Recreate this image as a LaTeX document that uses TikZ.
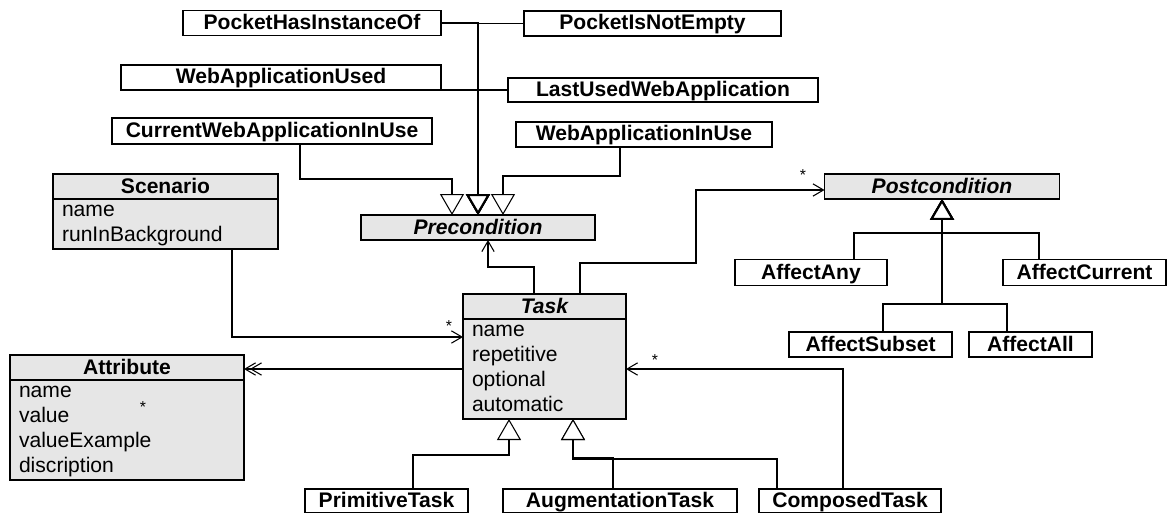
\documentclass[tikz,border=0pt]{standalone}
\usepackage{fontspec}
\setmainfont{Liberation Sans}
\usetikzlibrary{arrows.meta,positioning}
\definecolor{classfill}{RGB}{230,230,230}
\tikzset{
  every node/.style={font=\fontsize{12}{14.23}\selectfont},
  box/.style={draw, line width=0.8pt, inner sep=0pt, outer sep=0pt,
    minimum height=0.5cm, text height=8.6pt, text depth=1.2pt,
    font=\fontsize{12}{14.23}\selectfont\bfseries},
  abstract/.style={box, fill=classfill,
    font=\fontsize{12}{14.23}\selectfont\bfseries\itshape},
  head/.style={box, fill=classfill},
  attrs/.style={draw, line width=0.8pt, fill=classfill, outer sep=0pt,
    inner xsep=0.18cm, inner ysep=0pt, align=left},
  gen/.style={line width=0.6pt,
    -{Triangle[length=0.42cm,width=0.48cm,fill=white]}},
  assoc/.style={line width=0.6pt, -{Straight Barb[length=6pt,width=7pt]}},
  assoctwo/.style={line width=0.6pt,
    -{Straight Barb[length=6pt,width=7pt,sep=-3.5pt]Straight Barb[length=6pt,width=7pt]}},
  mult/.style={font=\fontsize{9}{10}\selectfont, inner sep=0pt}
}

\begin{document}
\begin{tikzpicture}[x=0.02cm, y=-0.02cm]
    \useasboundingbox (0,0) rectangle (1168,513);

    % preconditions
    \node[box, minimum width=5.16cm] (phio) at (312,23) {PocketHasInstanceOf};
    \node[box, minimum width=5.14cm] (pine) at (652.5,23.5) {PocketIsNotEmpty};
    \node[box, minimum width=6.4cm] (wau) at (281,77.5) {WebApplicationUsed};
    \node[box, minimum width=6.2cm, minimum height=0.48cm] (luwa) at (663,90) {LastUsedWebApplication};
    \node[box, minimum width=6.4cm, minimum height=0.52cm] (cwaiu) at (272,131) {CurrentWebApplicationInUse};
    \node[box, minimum width=5.12cm] (waiu) at (644,134.5) {WebApplicationInUse};
    \node[abstract, minimum width=4.68cm] (pre) at (478,227.5) {Precondition};

    % postconditions
    \node[abstract, minimum width=4.7cm] (post) at (942,186.5) {Postcondition};
    \node[box, minimum width=3.04cm, minimum height=0.53cm] (aany) at (811,272.5) {AffectAny};
    \node[box, minimum width=3.26cm, minimum height=0.52cm] (acur) at (1084.5,272.5) {AffectCurrent};
    \node[box, minimum width=3.26cm] (asub) at (870.5,344.5) {AffectSubset};
    \node[box, minimum width=2.46cm] (aall) at (1030.5,344.5) {AffectAll};

    % classes with attributes
    \node[head, minimum width=4.5cm] (scen) at (165.5,186.5) {Scenario};
    \node[attrs, text width=4.14cm, below=0pt of scen] (scenbody)
      {\strut name\\\strut runInBackground};
    \node[abstract, minimum width=3.26cm] (task) at (544.5,306.5) {Task};
    \node[attrs, text width=2.9cm, below=0pt of task] (taskbody)
      {\strut name\\\strut repetitive\\\strut optional\\\strut automatic};
    \node[head, minimum width=4.68cm] (attr) at (127,367.5) {Attribute};
    \node[attrs, text width=4.32cm, below=0pt of attr] (attrbody)
      {\strut name\\\strut value\\\strut valueExample\\\strut discription};

    % subtasks
    \node[box, minimum width=3.26cm, minimum height=0.48cm] (prim) at (386.5,501) {PrimitiveTask};
    \node[box, minimum width=4.68cm, minimum height=0.48cm] (aug) at (620,501) {AugmentationTask};
    \node[box, minimum width=3.64cm, minimum height=0.48cm] (comp) at (850,501) {ComposedTask};

    % generalizations
    \draw[gen] (phio.east) -| (pre.north);
    \draw[gen] (pine.west) -| (pre.north);
    \draw[gen, line width=1.2pt] (wau.east |- luwa.west) -| (pre.north);
    \draw[gen, line width=1.2pt] (luwa.west) -| (pre.north);
    \draw[gen] (300,0 |- cwaiu.south) |- (452,179) -- (452,0 |- pre.north);
    \draw[gen] (620,0 |- waiu.south) |- (503,176) -- (503,0 |- pre.north);

    \draw[gen] (854,0 |- aany.north) |- (942,233) -- (post.south);
    \draw[gen] (1039,0 |- acur.north) |- (942,233) -- (post.south);
    \draw[gen, line width=1.2pt] (883,0 |- asub.north) |- (942,304) -- (post.south);
    \draw[gen, line width=1.2pt] (1007,0 |- aall.north) |- (942,304) -- (post.south);

    \draw[gen] (413,0 |- prim.north) |- (509,455) -- (509,0 |- taskbody.south);
    \draw[gen] (613,0 |- aug.north) |- (573,457.5) -- (573,0 |- taskbody.south);
    \draw[gen] (777,0 |- comp.north) |- (573,459) -- (573,0 |- taskbody.south);

    % associations
    \draw[assoc] (232,0 |- scenbody.south) |- (taskbody.west |- 0,337);
    \draw[assoctwo] (taskbody.west) -- (attrbody.east |- taskbody.west);
    \draw[assoc] (534,0 |- task.north) |- (488,267) -- (488,0 |- pre.south);
    \draw[assoc] (580,0 |- task.north) |- (696,263) |- (post.west |- 0,190);
    \draw[assoc] (843,0 |- comp.north) |- (taskbody.east);

    \node[mult] (mscen) at (449,326) {*};
    \node[mult] (mattr) at (143,407) {*};
    \node[mult] (mpost) at (803,175) {*};
    \node[mult] (mcomp) at (655,360) {*};
\end{tikzpicture}
\end{document}
